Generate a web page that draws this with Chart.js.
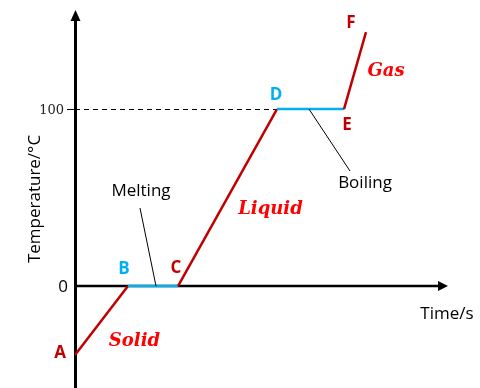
<!DOCTYPE html>
<html>
<head>
<meta charset="utf-8">
<script src="https://cdn.jsdelivr.net/npm/chart.js@4"></script>
<style>
  body { margin: 0; background: #fff; }
  canvas { display: block; }
</style>
</head>
<body>
<canvas id="heating-curve" width="480" height="388"></canvas>
<script>
// heating curve: time (arbitrary units) vs temperature in °C
const times = [0, 53, 103, 202, 269, 291];
const temps = [-39, 0, 0, 100, 100, 143.5];
const pointNames = ["A", "B", "C", "D", "E", "F"];
const yTicks = [0, 100];
const phases = ["Solid", "Liquid", "Gas"];
const changes = ["Melting", "Boiling"];
const changeTimes = [81, 234]; // where the pointer lines touch the plateaus

const RED = "#c00000";
const BLUE = "#00b0f0";

const isPlateau = (i, j) => temps[i] === temps[j];

const decorations = {
  id: "decorations",
  beforeDatasetsDraw(chart) {
    const { ctx, chartArea: a, scales: { x, y } } = chart;
    ctx.save();

    // dashed guide at 100 up to D
    ctx.strokeStyle = "#000";
    ctx.lineWidth = 1;
    ctx.setLineDash([5, 4]);
    ctx.beginPath();
    ctx.moveTo(a.left, Math.round(y.getPixelForValue(100)) + 0.5);
    ctx.lineTo(x.getPixelForValue(times[3]), Math.round(y.getPixelForValue(100)) + 0.5);
    ctx.stroke();
    ctx.setLineDash([]);

    // y axis with arrow
    const ax = a.left + 0.5;
    ctx.lineWidth = 3;
    ctx.beginPath();
    ctx.moveTo(ax, a.bottom);
    ctx.lineTo(ax, a.top + 8);
    ctx.stroke();
    ctx.fillStyle = "#000";
    ctx.beginPath();
    ctx.moveTo(ax, a.top);
    ctx.lineTo(ax - 5, a.top + 11);
    ctx.lineTo(ax + 5, a.top + 11);
    ctx.closePath();
    ctx.fill();

    // x axis with arrow
    const ay = y.getPixelForValue(0);
    ctx.lineWidth = 2.5;
    ctx.beginPath();
    ctx.moveTo(ax, ay);
    ctx.lineTo(a.right - 8, ay);
    ctx.stroke();
    ctx.beginPath();
    ctx.moveTo(a.right, ay);
    ctx.lineTo(a.right - 10, ay - 5);
    ctx.lineTo(a.right - 10, ay + 5);
    ctx.closePath();
    ctx.fill();

    // tick at 100
    const ty = Math.round(y.getPixelForValue(yTicks[1])) + 0.5;
    ctx.lineWidth = 1;
    ctx.beginPath();
    ctx.moveTo(a.left - 8, ty);
    ctx.lineTo(a.left, ty);
    ctx.stroke();

    // tick labels
    ctx.textBaseline = "middle";
    ctx.textAlign = "right";
    ctx.font = "13px 'DejaVu Serif'";
    ctx.fillStyle = "#222";
    ctx.fillText(String(yTicks[1]), a.left - 11, ty + 1);
    ctx.font = "17px 'Open Sans'";
    ctx.fillStyle = "#000";
    ctx.fillText(String(yTicks[0]), a.left - 7, ay + 1);

    // axis titles
    ctx.textAlign = "center";
    ctx.fillText("Time/s", 447, 314);
    ctx.save();
    ctx.translate(35, 199);
    ctx.rotate(-Math.PI / 2);
    ctx.fillText("Temperature/°C", 0, 0);
    ctx.restore();

    ctx.restore();
  },
  afterDatasetsDraw(chart) {
    const { ctx, scales: { x, y } } = chart;
    const px = i => x.getPixelForValue(times[i]);
    const py = i => y.getPixelForValue(temps[i]);
    ctx.save();
    ctx.textAlign = "center";
    ctx.textBaseline = "middle";

    // point letters
    const letterOffsets = [[-15, -2], [-4, -17], [-2, -18], [-1, -14], [3, 16], [-15, -9]];
    ctx.font = "bold 17px 'Open Sans'";
    pointNames.forEach((n, i) => {
      ctx.fillStyle = (i === 1 || i === 3) ? BLUE : RED;
      ctx.fillText(n, px(i) + letterOffsets[i][0], py(i) + letterOffsets[i][1]);
    });

    // phase names beside the sloped segments
    const phaseSegs = [[0, 1], [2, 3], [4, 5]];
    const phaseOffsets = [[33, 21], [43, 12], [31, 1]];
    ctx.font = "italic bold 18px 'DejaVu Serif'";
    ctx.fillStyle = "#ff0000";
    phases.forEach((p, k) => {
      const [i, j] = phaseSegs[k];
      const mx = (px(i) + px(j)) / 2, my = (py(i) + py(j)) / 2;
      ctx.fillText(p, mx + phaseOffsets[k][0], my + phaseOffsets[k][1]);
    });

    // melting / boiling pointers
    const lineEnds = [[140, 208], [350, 171]];
    const textPos = [[141, 191], [365, 183]];
    ctx.strokeStyle = "#000";
    ctx.lineWidth = 1;
    ctx.fillStyle = "#000";
    ctx.font = "17px 'Open Sans'";
    changes.forEach((c, k) => {
      const sx = x.getPixelForValue(changeTimes[k]);
      const sy = y.getPixelForValue(k === 0 ? temps[1] : temps[3]);
      ctx.beginPath();
      ctx.moveTo(sx, sy);
      ctx.lineTo(lineEnds[k][0], lineEnds[k][1]);
      ctx.stroke();
      ctx.fillText(c, textPos[k][0], textPos[k][1]);
    });

    ctx.restore();
  }
};

new Chart(document.getElementById("heating-curve"), {
  type: "line",
  data: {
    datasets: [{
      data: times.map((t, i) => ({ x: t, y: temps[i] })),
      borderColor: RED,
      borderWidth: 2.5,
      pointRadius: 0,
      tension: 0,
      segment: {
        borderColor: c => isPlateau(c.p0DataIndex, c.p1DataIndex) ? BLUE : RED,
      },
    }],
  },
  options: {
    responsive: false,
    animation: false,
    devicePixelRatio: 1,
    layout: { padding: { left: 75, right: 32, top: 10, bottom: 0 } },
    scales: {
      x: { type: "linear", min: 0, max: 373, display: false },
      y: { min: -57.6, max: 156, display: false },
    },
    plugins: {
      legend: { display: false },
      tooltip: { enabled: false },
    },
  },
  plugins: [decorations],
});
</script>
</body>
</html>
